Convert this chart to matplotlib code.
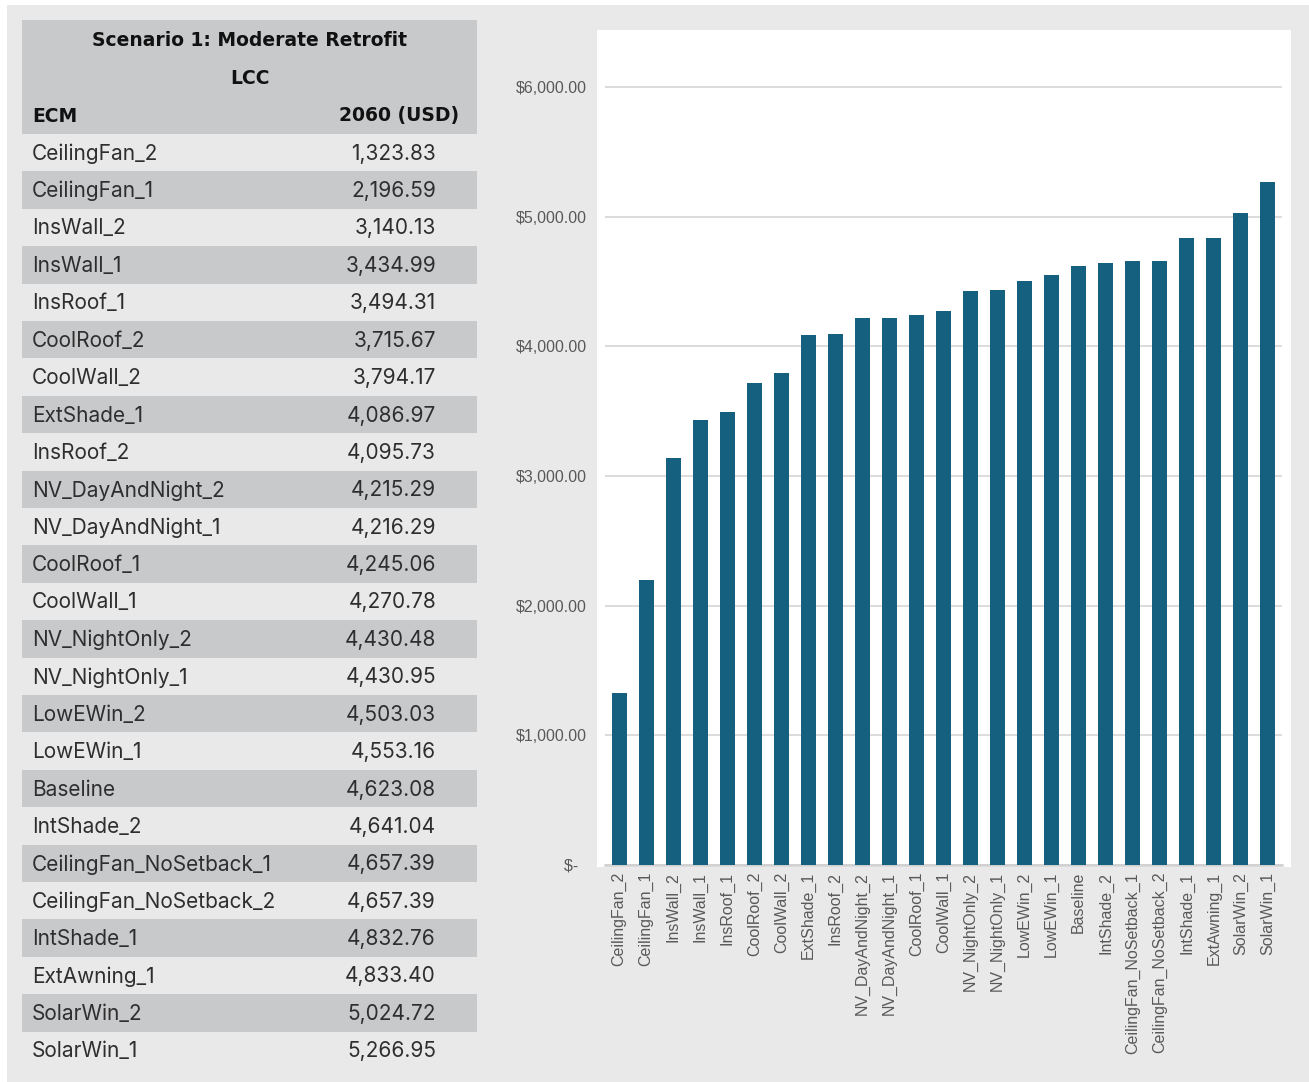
import matplotlib
matplotlib.use("Agg")
import matplotlib.pyplot as plt
from matplotlib.patches import Rectangle
from matplotlib.ticker import FuncFormatter

# ---- data ----
ecm = ["CeilingFan_2", "CeilingFan_1", "InsWall_2", "InsWall_1", "InsRoof_1",
       "CoolRoof_2", "CoolWall_2", "ExtShade_1", "InsRoof_2", "NV_DayAndNight_2",
       "NV_DayAndNight_1", "CoolRoof_1", "CoolWall_1", "NV_NightOnly_2",
       "NV_NightOnly_1", "LowEWin_2", "LowEWin_1", "Baseline", "IntShade_2",
       "CeilingFan_NoSetback_1", "CeilingFan_NoSetback_2", "IntShade_1",
       "ExtAwning_1", "SolarWin_2", "SolarWin_1"]
lcc = [1323.83, 2196.59, 3140.13, 3434.99, 3494.31, 3715.67, 3794.17, 4086.97,
       4095.73, 4215.29, 4216.29, 4245.06, 4270.78, 4430.48, 4430.95, 4503.03,
       4553.16, 4623.08, 4641.04, 4657.39, 4657.39, 4832.76, 4833.40, 5024.72,
       5266.95]
title_lines = ["Scenario 1: Moderate Retrofit", "LCC"]
col_headers = ["ECM", "2060 (USD)"]
yticks = [0, 1000, 2000, 3000, 4000, 5000, 6000]

W, H = 1309, 1082
fig = plt.figure(figsize=(W / 100, H / 100), dpi=100)
fig.patch.set_facecolor("white")

BG = "#e9e9e9"
DARK = "#c8c9cb"
BAR = "#15607f"
TFONT = "Inter"
FS = 15
HFONT = "DejaVu Sans"
HFS = 13.5

# background / table axes in pixel coordinates
ax0 = fig.add_axes([0, 0, 1, 1])
ax0.set_xlim(0, W)
ax0.set_ylim(H, 0)
ax0.axis("off")
ax0.add_patch(Rectangle((7, 5), W - 7, H - 5, color=BG, lw=0))
ax0.add_patch(Rectangle((22, 20), 455, 114, color=DARK, lw=0))
row_h = 37.4
top = 134
for i, (name, val) in enumerate(zip(ecm, lcc)):
    y0 = top + i * row_h
    if i % 2 == 1:
        ax0.add_patch(Rectangle((22, y0), 455, row_h, color=DARK, lw=0))
    yc = y0 + row_h / 2 + 1
    ax0.text(32, yc, name, ha="left", va="center", fontsize=FS, family=TFONT,
             color="#2e2e2e")
    ax0.text(436, yc, f"{val:,.2f}", ha="right", va="center", fontsize=FS,
             family=TFONT, color="#2e2e2e")
ax0.text(249.5, 40, title_lines[0], ha="center", va="center", fontsize=HFS,
         family=HFONT, weight="bold", color="#111111")
ax0.text(249.5, 78, title_lines[1], ha="center", va="center", fontsize=HFS,
         family=HFONT, weight="bold", color="#111111")
ax0.text(32, 116, col_headers[0], ha="left", va="center", fontsize=HFS,
         family=HFONT, weight="bold", color="#111111")
ax0.text(459, 116, col_headers[1], ha="right", va="center", fontsize=HFS,
         family=HFONT, weight="bold", color="#111111")

# white chart panel
ax0.add_patch(Rectangle((597, 30), 694, 837, color="white", lw=0))

# chart axes
px_per_unit = (865 - 87) / 6000.0
ymax = 6200
ax_left, ax_right = 605, 1282
ax_bottom = 865
ax_top = 865 - ymax * px_per_unit
ax = fig.add_axes([ax_left / W, 1 - ax_bottom / H,
                   (ax_right - ax_left) / W, (ax_bottom - ax_top) / H])
ax.set_facecolor("none")
x = list(range(len(ecm)))
ax.bar(x, lcc, width=0.555, color=BAR, zorder=3)
ax.set_xlim(-0.52, len(ecm) - 0.48)
ax.set_ylim(0, ymax)
ax.set_yticks(yticks)
ax.yaxis.set_major_formatter(FuncFormatter(
    lambda v, p: "$-  " if v == 0 else f"${v:,.2f}"))
ax.set_xticks(x)
ax.set_xticklabels(ecm, rotation=90)
ax.grid(axis="y", color="#d9d9d9", lw=1.3, zorder=0)
for s in ["top", "right", "left"]:
    ax.spines[s].set_visible(False)
ax.spines["bottom"].set_color("#d0d0d0")
ax.spines["bottom"].set_linewidth(1.8)
ax.tick_params(axis="y", length=0, pad=13, labelsize=11.5, labelcolor="#595959")
ax.tick_params(axis="x", length=0, pad=5, labelsize=11.5, labelcolor="#595959")
for lab in ax.get_xticklabels() + ax.get_yticklabels():
    lab.set_family("Liberation Sans")

fig.savefig("out.png", dpi=100)
